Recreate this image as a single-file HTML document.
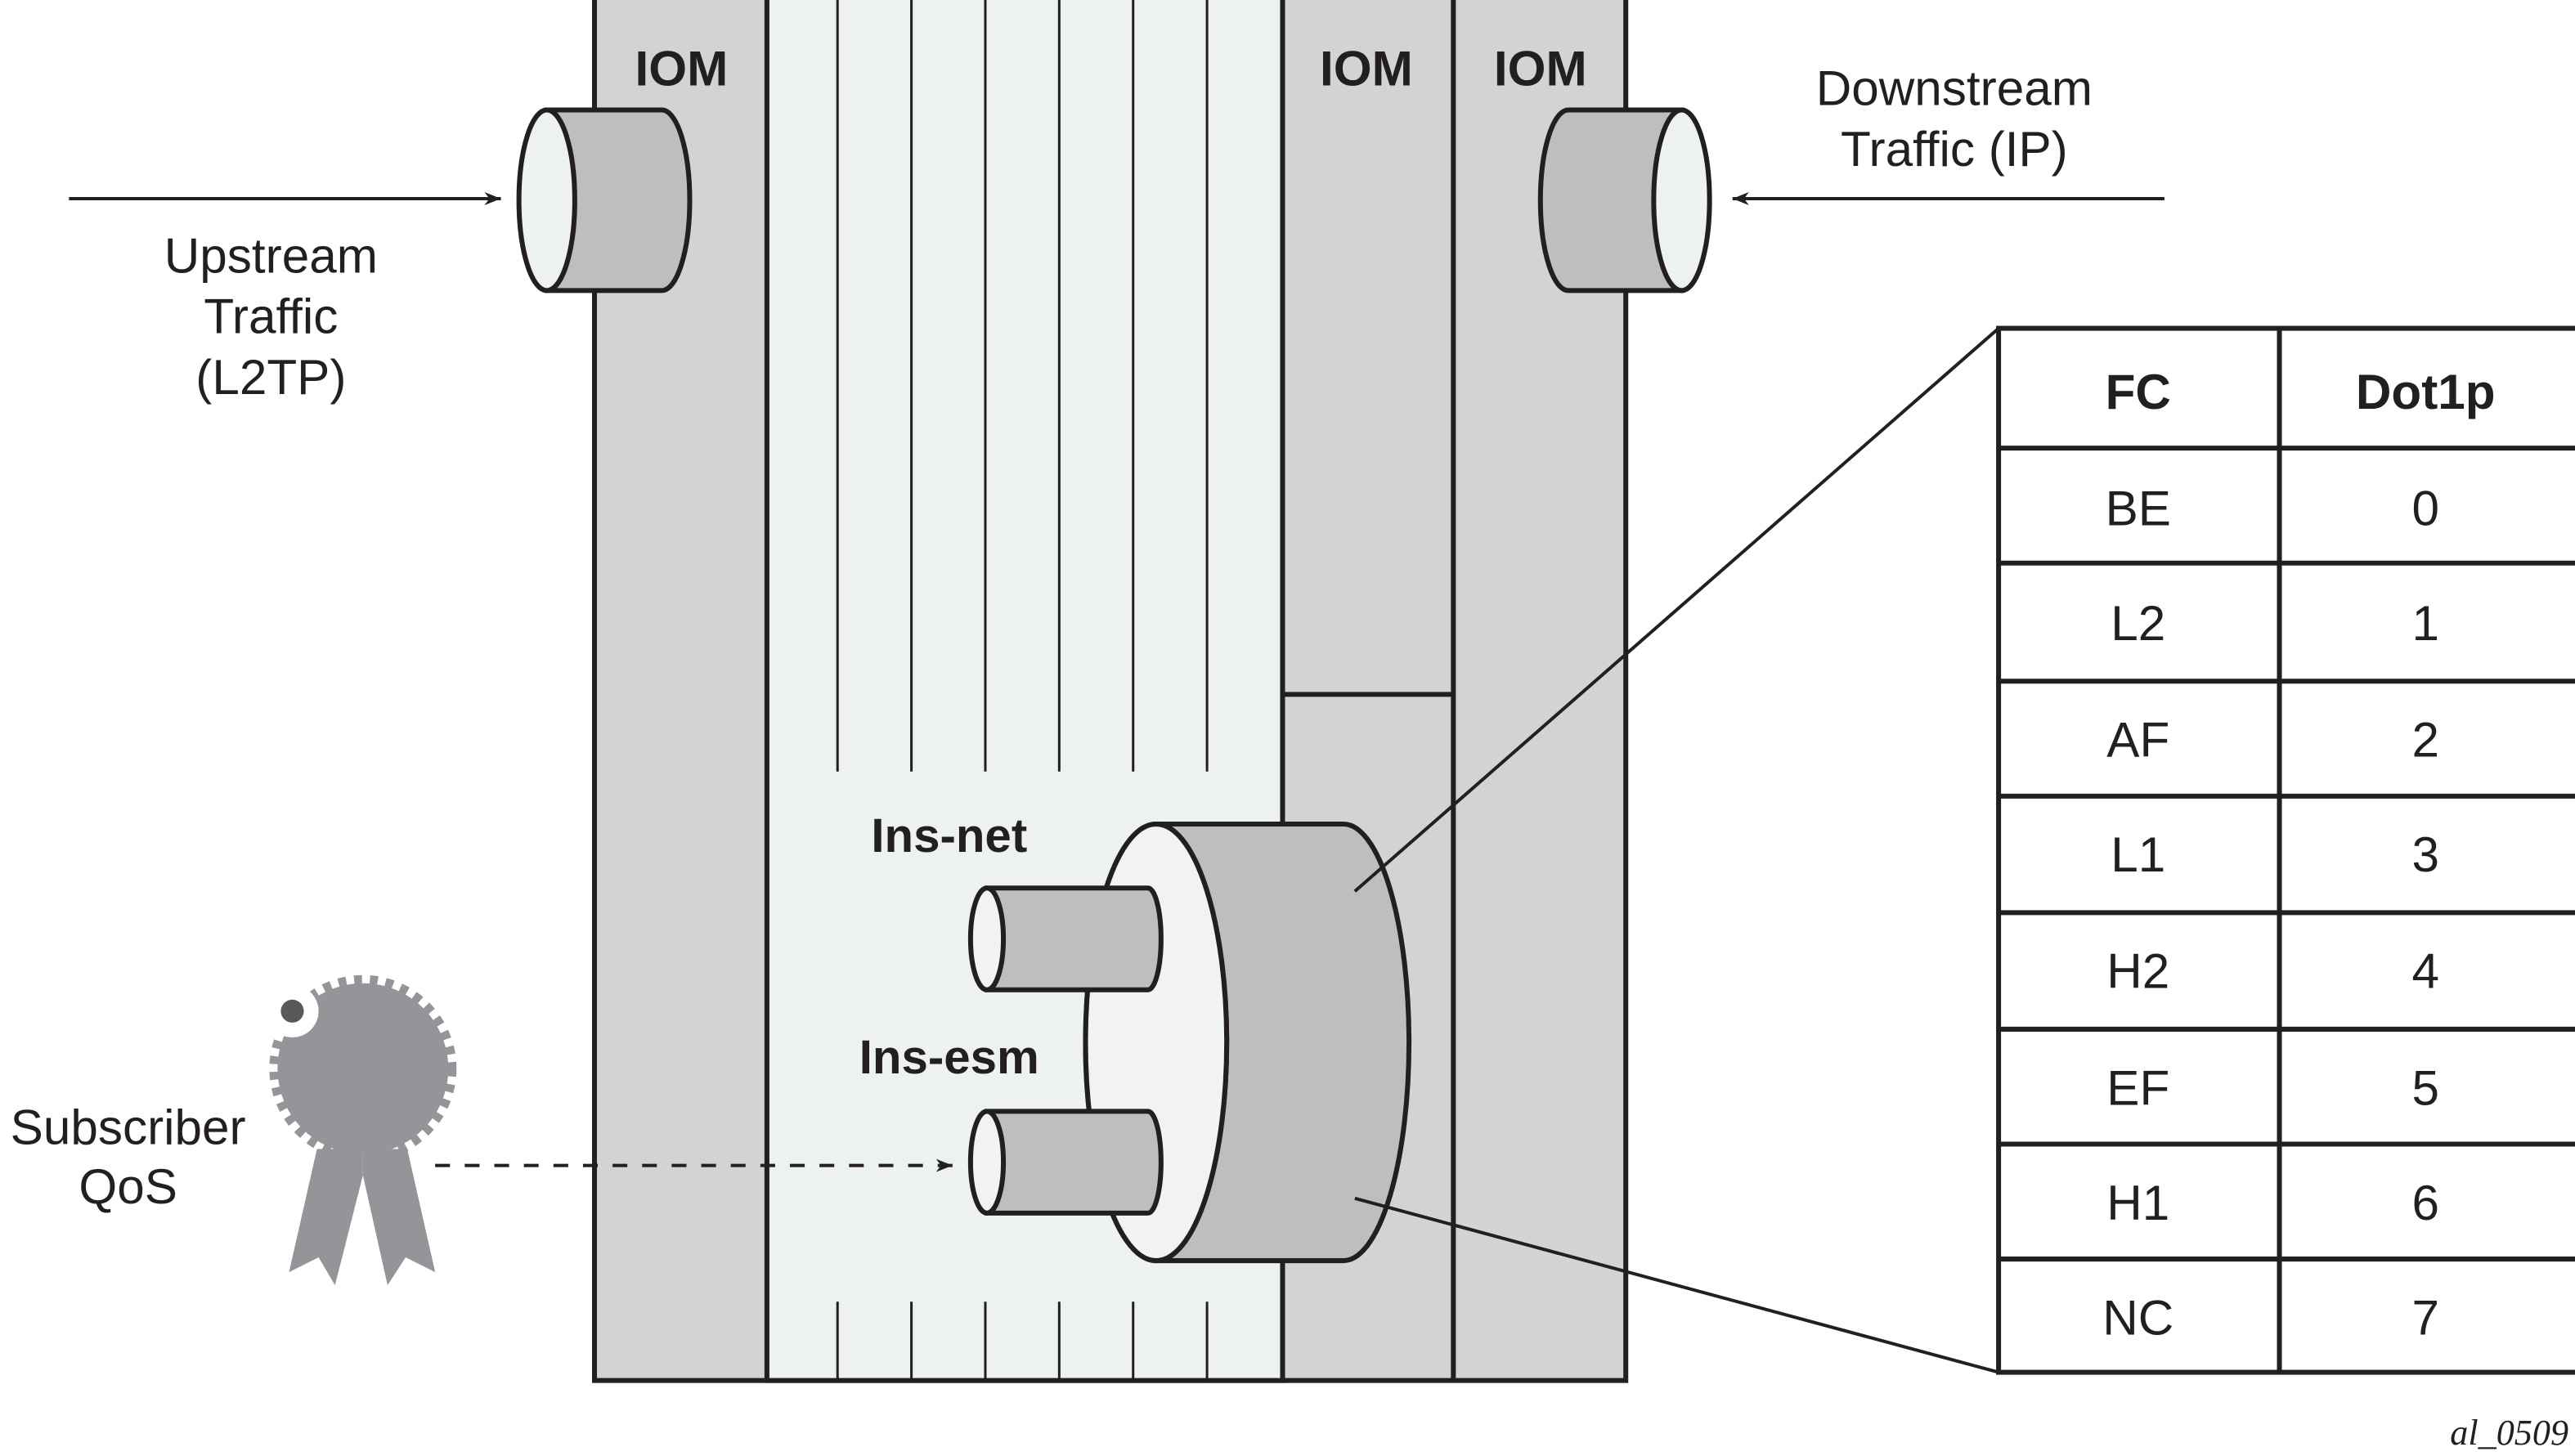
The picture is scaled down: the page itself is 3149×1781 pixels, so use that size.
<!DOCTYPE html>
<html><head><meta charset="utf-8"><style>
html,body{margin:0;padding:0;background:#fff;}
svg{display:block;}
text{font-family:"Liberation Sans",Arial,sans-serif;fill:#231f20;}
</style></head><body>
<svg width="3149" height="1781" viewBox="0 0 1568 887" preserveAspectRatio="none" xmlns="http://www.w3.org/2000/svg">
<defs>
<marker id="ah" markerWidth="10" markerHeight="8" refX="10" refY="4" orient="auto" markerUnits="userSpaceOnUse">
<path d="M0,0 L10,4 L0,8 L3,4 Z" fill="#231f20"/>
</marker>
</defs>
<g stroke="#231f20" stroke-width="3">
<rect x="362" y="-2" width="628" height="843" fill="#d1d3d4"/>
<rect x="467" y="-2" width="314" height="843" fill="#eef1f1"/>
<line x1="885" y1="0" x2="885" y2="841"/>
<line x1="781" y1="423" x2="885" y2="423"/>
</g>
<g stroke="#231f20" stroke-width="1.5">
<line x1="510" y1="0" x2="510" y2="470"/><line x1="555" y1="0" x2="555" y2="470"/>
<line x1="600" y1="0" x2="600" y2="470"/><line x1="645" y1="0" x2="645" y2="470"/>
<line x1="690" y1="0" x2="690" y2="470"/><line x1="735" y1="0" x2="735" y2="470"/>
<line x1="510" y1="793" x2="510" y2="841"/><line x1="555" y1="793" x2="555" y2="841"/>
<line x1="600" y1="793" x2="600" y2="841"/><line x1="645" y1="793" x2="645" y2="841"/>
<line x1="690" y1="793" x2="690" y2="841"/><line x1="735" y1="793" x2="735" y2="841"/>
</g>
<text x="415" y="52" font-size="30" font-weight="bold" text-anchor="middle">IOM</text>
<text x="832" y="52" font-size="30" font-weight="bold" text-anchor="middle">IOM</text>
<text x="938" y="52" font-size="30" font-weight="bold" text-anchor="middle">IOM</text>
<g stroke="#231f20" stroke-width="3">
<path d="M333,67 L403,67 A17,55 0 0 1 403,177 L333,177 Z" fill="#bcbec0"/>
<ellipse cx="333" cy="122" rx="17" ry="55" fill="#eef1f1"/>
<path d="M1024,67 L955,67 A17,55 0 0 0 955,177 L1024,177 Z" fill="#bcbec0"/>
<ellipse cx="1024" cy="122" rx="17" ry="55" fill="#eef1f1"/>
</g>
<g stroke="#231f20" stroke-width="2">
<line x1="42" y1="121" x2="305" y2="121" marker-end="url(#ah)"/>
<line x1="1318" y1="121" x2="1055" y2="121" marker-end="url(#ah)"/>
</g>
<g font-size="30" text-anchor="middle">
<text x="165" y="166">Upstream</text><text x="165" y="203">Traffic</text><text x="165" y="240">(L2TP)</text>
<text x="1190" y="64">Downstream</text><text x="1190" y="101">Traffic (IP)</text>
<text x="78" y="697">Subscriber</text><text x="78" y="733">QoS</text>
</g>
<g stroke="#231f20" stroke-width="3">
<path d="M704,502 L818,502 A40,133 0 0 1 818,768 L704,768 Z" fill="#bcbec0"/>
<ellipse cx="704" cy="635" rx="43" ry="133" fill="#bcbec0"/>
<path d="M704,502 A43,133 0 0 1 704,768 A43,133 0 0 1 704,502 Z" fill="#f1f3f2"/>
<path d="M601,541 L699,541 A8,31 0 0 1 699,603 L601,603 Z" fill="#bcbec0"/>
<ellipse cx="601" cy="572" rx="10" ry="31" fill="#f1f3f2"/>
<path d="M601,677 L699,677 A8,31 0 0 1 699,739 L601,739 Z" fill="#bcbec0"/>
<ellipse cx="601" cy="708" rx="10" ry="31" fill="#f1f3f2"/>
</g>
<text x="578" y="519" font-size="29" font-weight="bold" text-anchor="middle">Ins-net</text>
<text x="578" y="654" font-size="29" font-weight="bold" text-anchor="middle">Ins-esm</text>
<g stroke="#231f20" stroke-width="2">
<line x1="825" y1="543" x2="1217" y2="200"/>
<line x1="825" y1="730" x2="1217" y2="836"/>
<line x1="265" y1="710" x2="580" y2="710" stroke-dasharray="9,9" marker-end="url(#ah)"/>
</g>
<g stroke="#231f20" stroke-width="3" fill="#fff">
<rect x="1217" y="200" width="360" height="636"/>
<line x1="1388" y1="200" x2="1388" y2="836"/>
<line x1="1217" y1="273" x2="1568" y2="273"/>
<line x1="1217" y1="343" x2="1568" y2="343"/>
<line x1="1217" y1="415" x2="1568" y2="415"/>
<line x1="1217" y1="485" x2="1568" y2="485"/>
<line x1="1217" y1="556" x2="1568" y2="556"/>
<line x1="1217" y1="627" x2="1568" y2="627"/>
<line x1="1217" y1="697" x2="1568" y2="697"/>
<line x1="1217" y1="767" x2="1568" y2="767"/>
</g>
<g font-size="30" text-anchor="middle">
<text x="1302" y="249" font-weight="bold">FC</text><text x="1477" y="249" font-weight="bold">Dot1p</text>
<text x="1302" y="320">BE</text><text x="1477" y="320">0</text>
<text x="1302" y="390">L2</text><text x="1477" y="390">1</text>
<text x="1302" y="461">AF</text><text x="1477" y="461">2</text>
<text x="1302" y="531">L1</text><text x="1477" y="531">3</text>
<text x="1302" y="602">H2</text><text x="1477" y="602">4</text>
<text x="1302" y="673">EF</text><text x="1477" y="673">5</text>
<text x="1302" y="743">H1</text><text x="1477" y="743">6</text>
<text x="1302" y="813">NC</text><text x="1477" y="813">7</text>
</g>
<g fill="#939598">
<polygon points="193,700 221,700 221,716 204,783 194,766 176,775"/>
<polygon points="221,700 248,700 265,775 247,766 236,783 221,716"/>
<circle cx="221" cy="651" r="52"/>
<circle cx="221" cy="651" r="53" fill="none" stroke="#939598" stroke-width="8" stroke-dasharray="4.7,4.7"/>
</g>
<circle cx="178" cy="616" r="16" fill="#fff"/>
<circle cx="178" cy="616" r="7" fill="#58595b"/>
<text x="1528" y="880" font-size="22" font-style="italic" text-anchor="middle" style="font-family:'Liberation Serif',serif">al_0509</text>
</svg>
</body></html>
